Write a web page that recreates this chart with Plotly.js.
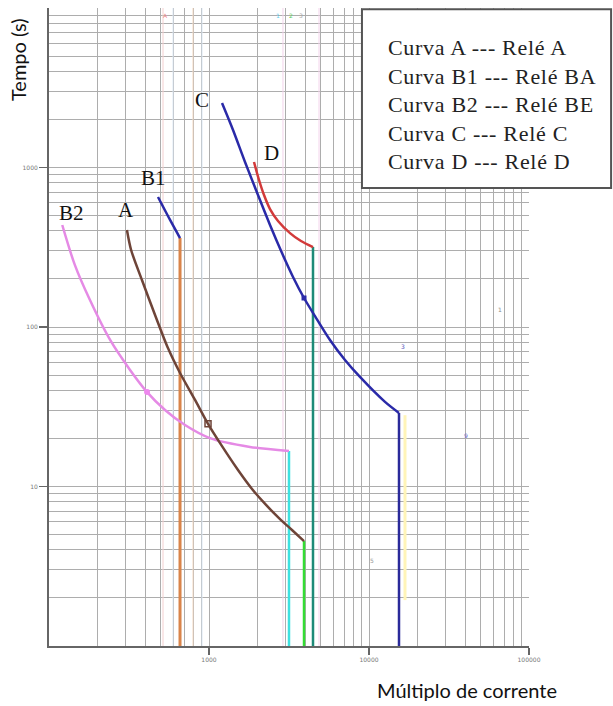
<!DOCTYPE html>
<html>
<head>
<meta charset="utf-8">
<script src="https://cdn.plot.ly/plotly-3.0.1.min.js"></script>
<style>
html,body{margin:0;padding:0;background:#fff;}
#chart{width:613px;height:706px;}
#chart g.annotation[data-index="13"] text{letter-spacing:0.7px;}
</style>
</head>
<body>
<div id="chart"></div>
<script>
// ---- data (current multiple, time in s) ----
const curveB2_x = [121, 145, 180, 241, 321, 410, 531, 708, 1014, 1804, 3162];
const curveB2_y = [436, 245, 148, 82.9, 53.8, 39.1, 30.2, 24.3, 20.1, 17.7, 16.7];
const curveA_x = [307, 326, 381, 460, 554, 659, 818, 986, 1206, 1518, 1857, 2272, 2779, 3302, 3925];
const curveA_y = [406, 304, 197, 119, 73.8, 51.5, 34.9, 24.7, 17.9, 12.69, 9.65, 7.66, 6.25, 5.34, 4.55];
const curveB1_x = [480, 571, 659];
const curveB1_y = [653, 469, 361];
const curveC_x = [1206, 1413, 1679, 2024, 2406, 2859, 3350, 3925, 4597, 5705, 7079, 8783, 12589, 15399];
const curveC_y = [2538, 1719, 1083, 672, 436, 291, 206, 152, 117, 82.9, 62.1, 48.6, 33.9, 28.9];
const curveD_x = [1911, 2054, 2207, 2406, 2700, 3208, 3758, 4467];
const curveD_y = [1083, 835, 672, 549, 462, 388, 346, 317];

// instantaneous (vertical) elements: x, top time
const instB1 = {x: 659, top: 361};
const instB2 = {x: 3162, top: 16.7};
const instA = {x: 3925, top: 4.55};
const instD = {x: 4467, top: 317};
const instC = {x: 15399, top: 28.9};

// marked points
const markB2 = [410, 39.1];
const markA = [986, 24.7];
const markC = [3925, 152];

// faint pickup lines
const faintX = [516, 596, 794, 904, 2900, 4870];
const faintColors = ['#f4d0d0', '#dbe7f4', '#f6dcc4', '#dbe7f4', '#f4d4ec', '#f4d4ec'];
const highlightX = 16788;
const highlightY = [28, 1.94];

// curve labels
const labelText = ['C', 'D', 'B1', 'A', 'B2'];
const labelX = [904, 2475, 447, 303, 139];
const labelY = [2650, 1233, 859, 542, 519];

// tiny stray marks
const tinyText = ['A', '1', '2', '3', '3', '9', '1', '5'];
const tinyX = [538, 2698, 3254, 3758, 16315, 40365, 65900, 10445];
const tinyY = [9036, 9036, 9036, 9036, 76, 21, 128, 3.46];
const tinyColors = ['#f08a8a', '#66ccee', '#55cc55', '#aaaaaa', '#5555bb', '#6666cc', '#888888', '#999999'];

// legend text
const legendLines = ['Curva A --- Relé A', 'Curva B1 --- Relé BA', 'Curva B2 --- Relé BE', 'Curva C --- Relé C', 'Curva D --- Relé D'];

// axis ticks
const xTickVals = [1000, 10000, 100000];
const xTickText = ['1000', '10000', '100000'];
const yTickVals = [10, 100, 1000];
const yTickText = ['10', '100', '1000'];

// ---- build ----
const yMin = 1;
function minorVals(d0, d1) {
  const v = [];
  for (let d = d0; d <= d1; d++) {
    for (let k = 1; k <= 9; k++) v.push(k * Math.pow(10, d));
  }
  return v;
}

const traces = [];
faintX.forEach((x, i) => traces.push({x: [x, x], y: [yMin, 10000], mode: 'lines', line: {color: faintColors[i], width: 1}, hoverinfo: 'skip'}));
traces.push({x: [highlightX, highlightX], y: highlightY, mode: 'lines', line: {color: '#fff4b8', width: 3}, hoverinfo: 'skip'});

function vline(inst, color, w) {
  return {x: [inst.x, inst.x], y: [inst.top, yMin], mode: 'lines', line: {color: color, width: w}, hoverinfo: 'skip'};
}
function curve(xs, ys, color) {
  return {x: xs, y: ys, mode: 'lines', line: {color: color, width: 2.5, shape: 'spline', smoothing: 0.8}, hoverinfo: 'skip'};
}
traces.push(vline(instB1, '#d9844a', 3));
traces.push(vline(instB2, '#3ee0e0', 2.5));
traces.push(vline(instA, '#33dd33', 2.5));
traces.push(vline(instD, '#1e8a78', 2.5));
traces.push(vline(instC, '#2a2a9a', 2.5));
traces.push(curve(curveB2_x, curveB2_y, '#e58ae5'));
traces.push(curve(curveA_x, curveA_y, '#6e4438'));
traces.push(curve(curveB1_x, curveB1_y, '#2a2aa8'));
traces.push(curve(curveC_x, curveC_y, '#2a2aa8'));
traces.push(curve(curveD_x, curveD_y, '#d23a3a'));
traces.push({x: [markB2[0]], y: [markB2[1]], mode: 'markers', marker: {color: '#ee88ee', size: 6, symbol: 'circle'}, hoverinfo: 'skip'});
traces.push({x: [markA[0]], y: [markA[1]], mode: 'markers', marker: {color: '#6e4438', size: 6, symbol: 'square-open', line: {width: 1.5, color: '#4a2e26'}}, hoverinfo: 'skip'});
traces.push({x: [markC[0]], y: [markC[1]], mode: 'markers', marker: {color: '#2a2aa8', size: 5, symbol: 'square'}, hoverinfo: 'skip'});

const annotations = [];
labelText.forEach((t, i) => annotations.push({
  x: Math.log10(labelX[i]), y: Math.log10(labelY[i]), xref: 'x', yref: 'y', text: t, showarrow: false,
  font: {family: 'Liberation Serif', size: 21, color: '#111'}, xanchor: 'center', yanchor: 'middle'
}));
tinyText.forEach((t, i) => annotations.push({
  x: Math.log10(tinyX[i]), y: Math.log10(tinyY[i]), xref: 'x', yref: 'y', text: t, showarrow: false,
  font: {family: 'DejaVu Sans', size: 6, color: tinyColors[i]}, xanchor: 'center', yanchor: 'middle'
}));
annotations.push({
  xref: 'paper', yref: 'paper', x: 0.702, y: 0.8495, xanchor: 'left', yanchor: 'middle', align: 'left',
  text: legendLines.join('<br>'), showarrow: false,
  font: {family: 'Liberation Serif', size: 22, color: '#222'}
});
annotations.push({
  xref: 'paper', yref: 'paper', x: -0.0646, y: 0.92, text: 'Tempo (s)', textangle: -90, showarrow: false,
  xanchor: 'center', yanchor: 'middle', font: {family: 'Lato', size: 20, color: '#111'}
});
annotations.push({
  xref: 'paper', yref: 'paper', x: 0.871, y: -0.069, text: 'Múltiplo de corrente', showarrow: false,
  xanchor: 'center', yanchor: 'middle', font: {family: 'Lato', size: 20, color: '#111'}
});

const layout = {
  width: 613, height: 706,
  margin: {l: 49, r: 84, t: 8, b: 60},
  paper_bgcolor: '#fff', plot_bgcolor: '#fff',
  showlegend: false,
  xaxis: {
    type: 'log', range: [2, 5], tickmode: 'array', tickvals: xTickVals, ticktext: xTickText,
    ticks: 'outside', ticklen: 7, tickwidth: 1.5, tickcolor: '#666',
    tickfont: {family: 'DejaVu Sans', size: 6, color: '#777'},
    showgrid: true, gridcolor: '#adadad', gridwidth: 1,
    minor: {tickmode: 'array', tickvals: minorVals(2, 4), showgrid: true, gridcolor: '#adadad', gridwidth: 1, ticks: ''},
    showline: true, linecolor: '#666', linewidth: 2, zeroline: false, fixedrange: true
  },
  yaxis: {
    type: 'log', range: [0, 4], tickmode: 'array', tickvals: yTickVals, ticktext: yTickText,
    ticks: 'outside', ticklen: 8, tickwidth: 1.5, tickcolor: '#666',
    tickfont: {family: 'DejaVu Sans', size: 6, color: '#777'},
    showgrid: true, gridcolor: '#adadad', gridwidth: 1,
    minor: {tickmode: 'array', tickvals: minorVals(0, 4), showgrid: true, gridcolor: '#adadad', gridwidth: 1, ticks: ''},
    showline: true, linecolor: '#666', linewidth: 2, zeroline: false, fixedrange: true
  },
  shapes: [{
    type: 'rect', xref: 'paper', yref: 'paper', x0: 0.652, x1: 1.171, y0: 0.718, y1: 0.998,
    line: {color: '#555', width: 2}, fillcolor: '#fff', layer: 'above'
  }],
  annotations: annotations
};

Plotly.newPlot('chart', traces, layout, {displayModeBar: false, staticPlot: true});
</script>
</body>
</html>
